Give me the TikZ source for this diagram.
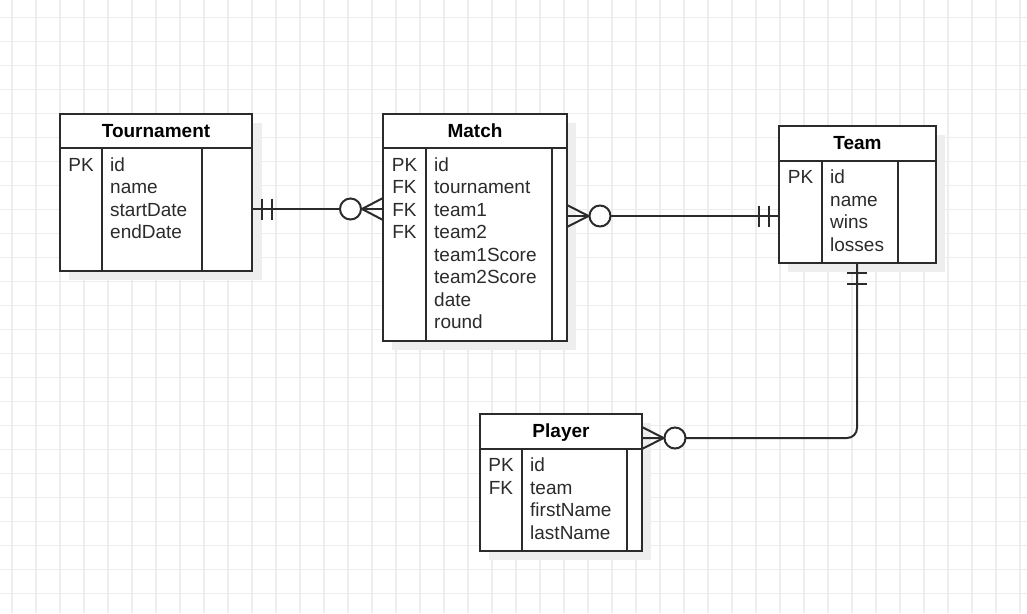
\documentclass[tikz,border=0pt]{standalone}
\usepackage{fontspec}
\setmainfont{Liberation Sans}
\usetikzlibrary{calc}
\definecolor{ln}{HTML}{2B2B2B}
\definecolor{gridc}{HTML}{EDEDED}
\definecolor{shad}{HTML}{EEEEEE}
\tikzset{
  entbox/.style={draw=ln, line width=2pt, fill=white, anchor=north west, outer sep=0pt, inner sep=0pt},
  sep/.style={draw=ln, line width=2pt},
  ttl/.style={anchor=base, font=\fontsize{19}{22}\selectfont\bfseries, text=black},
  keyt/.style={anchor=base, font=\fontsize{19}{22}\selectfont, text=ln},
  attr/.style={anchor=base west, font=\fontsize{19}{22}\selectfont, text=ln},
  conn/.style={draw=ln, line width=2pt},
  tick/.style={draw=ln, line width=2pt},
  ring/.style={draw=ln, line width=2pt, fill=white},
}
\begin{document}
\begin{tikzpicture}[x=1pt,y=-1pt,inner sep=0pt]
\fill[white] (0,0) rectangle (1027,613);
\useasboundingbox (0,0) rectangle (1027,613);
% grid
\foreach \gx in {12,36,...,1020} \draw[gridc, line width=1.5pt] (\gx,0) -- (\gx,613);
\foreach \gy in {17.5,41.5,...,612} \draw[gridc, line width=1.5pt] (0,\gy) -- (1027,\gy);

% ---------- Tournament ----------
\fill[shad] (69,123) rectangle (262,280);
\node[entbox, minimum width=192pt, minimum height=157pt] (tour) at (60,114) {};
\draw[sep] (60,148) -- (252,148);
\draw[sep] (102,148) -- (102,271);
\draw[sep] (202,148) -- (202,271);
\node[ttl] (tour-t) at (156,137) {Tournament};
\node[keyt] (tour-k1) at (81,171) {PK};
\foreach \t [count=\i] in {id,name,startDate,endDate}
  \node[attr] (tour-a\i) at (110,{171+22.5*(\i-1)}) {\t};

% ---------- Match ----------
\fill[shad] (392,123) rectangle (576,350);
\node[entbox, minimum width=184pt, minimum height=227pt] (match) at (383,114) {};
\draw[sep] (383,148) -- (567,148);
\draw[sep] (426,148) -- (426,341);
\draw[sep] (552,148) -- (552,341);
\node[ttl] (match-t) at (475,137) {Match};
\foreach \k [count=\i] in {PK,FK,FK,FK}
  \node[keyt] (match-k\i) at (404.5,{171+22.5*(\i-1)}) {\k};
\foreach \t [count=\i] in {id,tournament,team1,team2,team1Score,team2Score,date,round}
  \node[attr] (match-a\i) at (434,{171+22.5*(\i-1)}) {\t};

% ---------- Team ----------
\fill[shad] (788,135) rectangle (945,272);
\node[entbox, minimum width=157pt, minimum height=137pt] (team) at (779,126) {};
\draw[sep] (779,161) -- (936,161);
\draw[sep] (822,161) -- (822,263);
\draw[sep] (898,161) -- (898,263);
\node[ttl] (team-t) at (857.5,149) {Team};
\node[keyt] (team-k1) at (800.5,183.5) {PK};
\foreach \t [count=\i] in {id,name,wins,losses}
  \node[attr] (team-a\i) at (830,{183.5+22.5*(\i-1)}) {\t};

% ---------- Player ----------
\fill[shad] (489,423) rectangle (651,560);
\node[entbox, minimum width=162pt, minimum height=137pt] (player) at (480,414) {};
\draw[sep] (480,449) -- (642,449);
\draw[sep] (522,449) -- (522,551);
\draw[sep] (627,449) -- (627,551);
\node[ttl] (player-t) at (561,437.5) {Player};
\foreach \k [count=\i] in {PK,FK}
  \node[keyt] (player-k\i) at (501,{471.5+22.5*(\i-1)}) {\k};
\foreach \t [count=\i] in {id,team,firstName,lastName}
  \node[attr] (player-a\i) at (530,{471.5+22.5*(\i-1)}) {\t};

% ---------- Connectors ----------
% Tournament -- Match
\coordinate (tmA) at (tour.east |- 0,209);
\coordinate (tmB) at (match.west |- 0,209);
\draw[conn] (tmA) -- (tmB);
\draw[tick] ($(tmA)+(10,-10.5)$) -- ($(tmA)+(10,10.5)$);
\draw[tick] ($(tmA)+(20,-10.5)$) -- ($(tmA)+(20,10.5)$);
\draw[conn] ($(tmB)+(0,-11)$) -- ($(tmB)+(-21,0)$) -- ($(tmB)+(0,11)$);
\draw[ring] ($(tmB)+(-32.5,0)$) circle[radius=10.5pt];

% Match -- Team
\coordinate (mtA) at (match.east |- 0,216);
\coordinate (mtB) at (team.west |- 0,216);
\draw[conn] (mtA) -- (mtB);
\draw[conn] ($(mtA)+(0,-11)$) -- ($(mtA)+(21.5,0)$) -- ($(mtA)+(0,11)$);
\draw[ring] ($(mtA)+(33,0)$) circle[radius=10.5pt];
\draw[tick] ($(mtB)+(-10,-10.5)$) -- ($(mtB)+(-10,10.5)$);
\draw[tick] ($(mtB)+(-20,-10.5)$) -- ($(mtB)+(-20,10.5)$);

% Team -- Player
\coordinate (tpA) at (857,263);
\coordinate (tpB) at (player.east |- 0,438);
\draw[conn, rounded corners=10pt] (tpA) |- (tpB);
\draw[tick] ($(tpA)+(-10,10)$) -- ($(tpA)+(10,10)$);
\draw[tick] ($(tpA)+(-10,21)$) -- ($(tpA)+(10,21)$);
\draw[conn] ($(tpB)+(0,-11)$) -- ($(tpB)+(21.5,0)$) -- ($(tpB)+(0,11)$);
\draw[ring] ($(tpB)+(33,0)$) circle[radius=10.5pt];
\end{tikzpicture}
\end{document}
